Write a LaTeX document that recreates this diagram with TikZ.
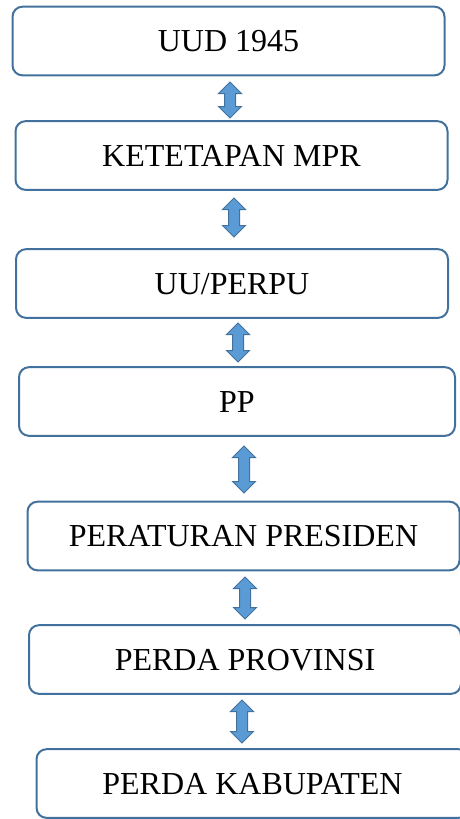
\documentclass[tikz,border=0pt]{standalone}
\usepackage{fontspec}
\setmainfont{Liberation Serif}
\usetikzlibrary{shapes.arrows}
\definecolor{HKLine}{HTML}{41719C}
\definecolor{HKArrow}{HTML}{5B9BD5}
\definecolor{HKInk}{HTML}{000000}
\tikzset{
  level/.style={draw=HKLine,line width=1.5pt,fill=white,rounded corners=7.5pt,
                text=HKInk,minimum width=324pt,minimum height=51.5pt,
                text height=16pt,text depth=0pt,align=center,
                font=\fontsize{24}{28}\selectfont},
  updown/.style={double arrow,rotate=90,draw=HKLine,line width=0.75pt,fill=HKArrow,
                 inner sep=3.75pt,double arrow head extend=4.5pt,minimum width=0pt},
}
\begin{document}
\begin{tikzpicture}[x=.75pt,y=-.75pt]
    \useasboundingbox (0,0) rectangle (460,819);
    \clip (0,0) rectangle (460,819);

    \node[level] (uud) at (228.5,41) {UUD 1945};
    \node[level] (tapmpr) at (231.5,155.5) {KETETAPAN MPR};
    \node[level] (uu) at (232,283.5) {UU/PERPU};
    \node[level,minimum width=327pt] (pp) at (237,401.5) {PP};
    \node[level] (perpres) at (243.5,536) {PERATURAN PRESIDEN};
    \node[level] (perprov) at (245,659.5) {PERDA PROVINSI};
    \node[level] (perkab) at (252.5,783.5) {PERDA KABUPATEN};

    \node[updown,minimum height=27pt] (arr1) at (230,100) {};
    \node[updown,minimum height=29.25pt] (arr2) at (234,217.5) {};
    \node[updown,minimum height=29.25pt] (arr3) at (238,342.5) {};
    \node[updown,minimum height=35.25pt] (arr4) at (244,469.5) {};
    \node[updown,minimum height=31.5pt] (arr5) at (245,598) {};
    \node[updown,minimum height=32.25pt] (arr6) at (242,721.5) {};
  \end{tikzpicture}
\end{document}
